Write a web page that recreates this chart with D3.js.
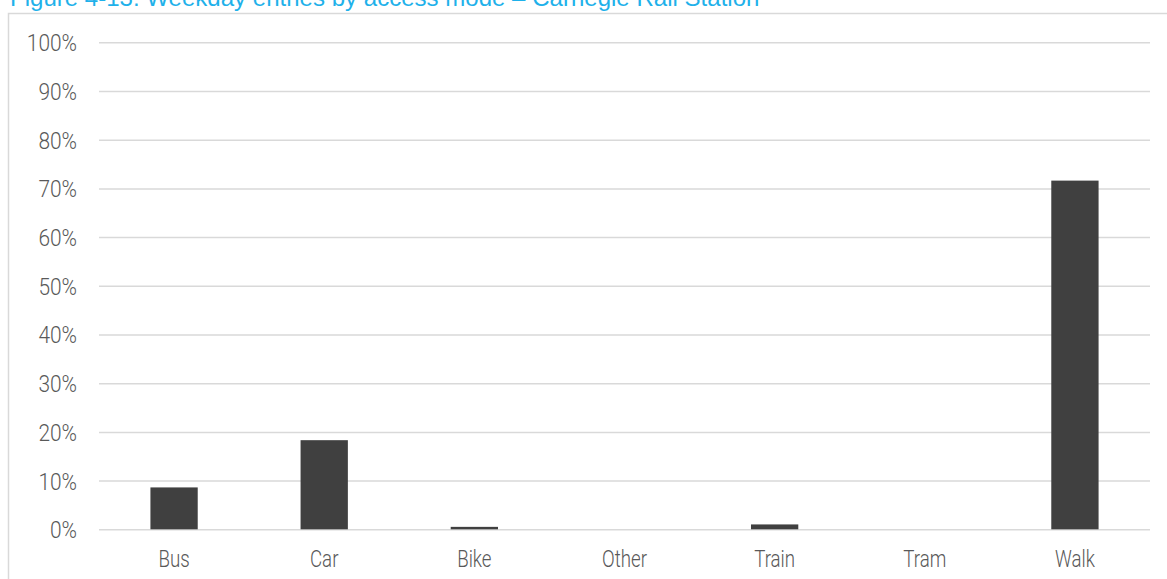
<!DOCTYPE html>
<html>
<head>
<meta charset="utf-8">
<script src="https://cdn.jsdelivr.net/npm/d3@7"></script>
<style>
  html, body { margin: 0; padding: 0; background: #fff; overflow: hidden; }
  svg { display: block; }
</style>
</head>
<body>
<svg id="chart" width="1167" height="579"></svg>
<script>
const titleText = "Figure 4-13: Weekday entries by access mode \u2013 Carnegie Rail Station";
const categories = ["Bus", "Car", "Bike", "Other", "Train", "Tram", "Walk"];
const shares = [8.6, 18.3, 0.5, 0, 1.0, 0, 71.6];
const yTicks = [0, 10, 20, 30, 40, 50, 60, 70, 80, 90, 100];

const svg = d3.select("#chart");
const plotLeft = 99, plotRight = 1150, plotTop = 42.3, plotBottom = 529.3;
const labelFont = "Roboto, 'Liberation Sans', sans-serif";

// Outer frame (only top and left visible)
svg.append("rect")
  .attr("x", 8.5).attr("y", 13.5)
  .attr("width", 1300).attr("height", 700)
  .attr("fill", "none").attr("stroke", "#d9d9d9").attr("stroke-width", 1.5);

// Title (clipped at top, as in the source page)
const title = svg.append("text")
  .attr("x", 10).attr("y", 5.5)
  .attr("fill", "#1fb1ea")
  .attr("font-family", "'Liberation Sans', Arial, sans-serif")
  .attr("font-size", 20)
  .text(titleText);
const tl = title.node().getComputedTextLength();
title.attr("font-size", 20 * 750 / tl);

const x = d3.scaleBand().domain(categories).range([plotLeft, plotRight])
  .paddingInner(0.685).paddingOuter(0.3425);
const y = d3.scaleLinear().domain([0, 100]).range([plotBottom, plotTop]);

// Gridlines + y labels
const yAxis = d3.axisLeft(y).tickValues(yTicks)
  .tickSize(-(plotRight - plotLeft)).tickPadding(22)
  .tickFormat(d => d + "%");
const gy = svg.append("g").attr("transform", `translate(${plotLeft},0)`).call(yAxis);
gy.select(".domain").remove();
gy.selectAll(".tick line").attr("stroke", "#d9d9d9").attr("stroke-width", 1.5);
gy.selectAll(".tick text")
  .attr("fill", "#595959")
  .attr("font-family", labelFont)
  .attr("font-weight", 300)
  .attr("font-size", 24)
  .attr("dy", "0.35em")
  .attr("x", -22 / 0.87)
  .attr("transform", "scale(0.87,1)");

// Bars
svg.append("g").selectAll("rect")
  .data(categories.map((c, i) => ({ c, v: shares[i] })))
  .join("rect")
  .attr("x", d => x(d.c))
  .attr("width", x.bandwidth())
  .attr("y", d => y(d.v))
  .attr("height", d => y(0) - y(d.v))
  .attr("fill", "#404040");

// X axis labels
const xAxis = d3.axisBottom(x).tickSize(0).tickPadding(0);
const gx = svg.append("g").attr("transform", `translate(0,${plotBottom})`).call(xAxis);
gx.select(".domain").remove();
gx.selectAll(".tick text")
  .attr("fill", "#595959")
  .attr("font-family", labelFont)
  .attr("font-weight", 300)
  .attr("font-size", 24)
  .attr("y", 37.5)
  .attr("dy", null)
  .attr("transform", "scale(0.78,1)");
</script>
</body>
</html>
